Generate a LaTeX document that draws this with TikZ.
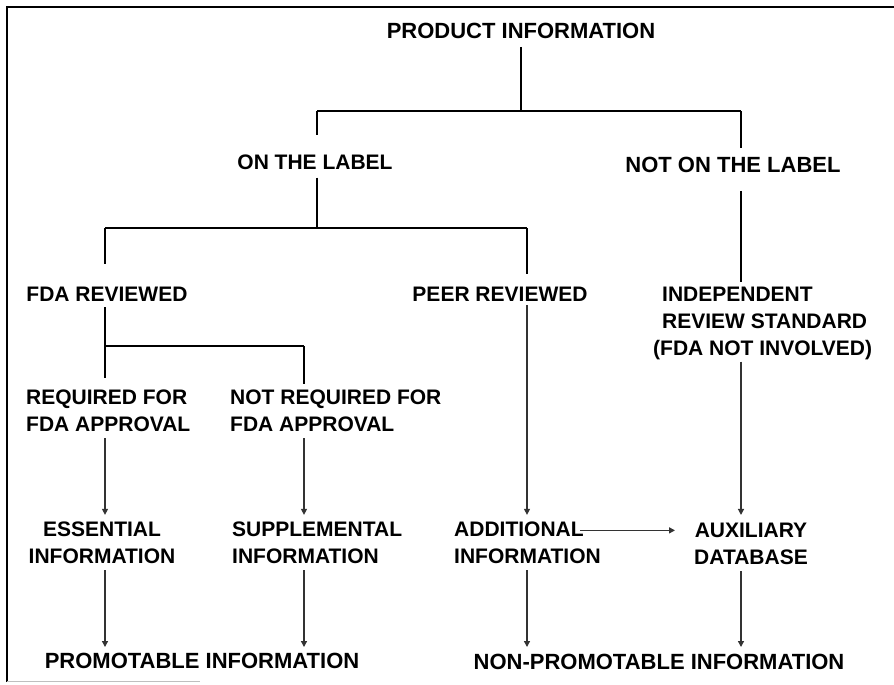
\documentclass[tikz,border=0pt]{standalone}
\usepackage{fontspec}
\setmainfont{Liberation Sans}
\usepackage{tikz}
\usetikzlibrary{arrows.meta, calc}

\begin{document}
\begin{tikzpicture}[x=1pt, y=-1pt, info/.style={inner sep=0pt, font=\bfseries\fontsize{21}{27}\selectfont}, wide/.style={info, font=\bfseries\fontsize{22}{27}\selectfont}, link/.style={line width=1.5pt}, arr/.style={->, line width=1.3pt, draw=black!80}, >={Triangle[length=6pt,width=6pt]}]
        \useasboundingbox (0,0) rectangle (894,685);
        % frame
        \draw[line width=1.4pt] (7,682) -- (7,7) -- (894,7);
        \draw[black!25, line width=1pt] (7,681) -- (200,681);
        \node[wide] (prod) at (521,31) {PRODUCT INFORMATION};
        \node[info] (onlabel) at (315,162) {ON THE LABEL};
        \node[wide] (notlabel) at (733,165) {NOT ON THE LABEL};
        \node[info] (fdarev) at (107,294) {FDA REVIEWED};
        \node[info] (peer) at (500,294) {PEER REVIEWED};
        \node[info, align=left, anchor=west] (indep) at (662,323) {INDEPENDENT\\REVIEW STANDARD\\\hspace*{-9pt}(FDA NOT INVOLVED)};
        \node[info, align=left, anchor=west] (req) at (26,411) {REQUIRED FOR\\FDA APPROVAL};
        \node[info, align=left, anchor=west] (notreq) at (230,411) {NOT REQUIRED FOR\\FDA APPROVAL};
        \node[info, align=center] (ess) at (102,543) {ESSENTIAL\\INFORMATION};
        \node[info, align=left, anchor=west] (supp) at (232,543) {SUPPLEMENTAL\\INFORMATION};
        \node[info, align=left, anchor=west] (add) at (454,543) {ADDITIONAL\\INFORMATION};
        \node[info, align=center] (aux) at (751,544) {AUXILIARY\\DATABASE};
        \node[wide] (prom) at (202,661) {PROMOTABLE INFORMATION};
        \node[wide] (nonprom) at (659,662) {NON-PROMOTABLE INFORMATION};
        % branch points
        \coordinate (j1) at (521,111);
        \coordinate (j1l) at (317,111);
        \coordinate (j1r) at (741,111);
        \coordinate (j2) at (317,228);
        \coordinate (j2l) at (105,228);
        \coordinate (j2r) at (527,228);
        \coordinate (j3) at (105,346);
        \coordinate (j3r) at (304,346);
        \coordinate (addend) at ($(add.north west)+(126,8.5)$);
        \draw[link, shorten <=8pt] (prod.south) -- (j1);
        \draw[link] (j1l) -- (j1r);
        \draw[link, shorten >=19pt] (j1l) -- (onlabel.north -| j1l);
        \draw[link, shorten >=9pt] (j1r) -- (notlabel.north -| j1r);
        \draw[link, shorten <=8pt] (onlabel.south -| j2) -- (j2);
        \draw[link] (j2l) -- (j2r);
        \draw[link, shorten >=23pt] (j2l) -- (fdarev.north -| j2l);
        \draw[link, shorten >=13pt] (j2r) -- (peer.north -| j2r);
        \draw[link, shorten <=18pt, shorten >=4pt] (notlabel.south -| j1r) -- (indep.north -| j1r);
        \draw[link, shorten <=6pt] (fdarev.south -| j3) -- (j3);
        \draw[link] (j3) -- (j3r);
        \draw[link, shorten >=12pt] (j3) -- (req.north -| j3);
        \draw[link, shorten >=6pt] (j3r) -- (notreq.north -| j3r);
        % arrows
        \draw[arr, shorten <=6pt, shorten >=7pt] (req.south -| j3) -- (ess.north -| j3);
        \draw[arr, shorten <=6pt, shorten >=7pt] (notreq.south -| j3r) -- (supp.north -| j3r);
        \draw[arr, shorten <=4pt, shorten >=7pt] (peer.south -| j2r) -- (add.north -| j2r);
        \draw[arr, shorten <=2pt, shorten >=8pt] (indep.south -| j1r) -- (aux.north -| j1r);
        \draw[arr, shorten >=19pt] (addend) -- (addend -| aux.west);
        \draw[arr, shorten <=6pt, shorten >=6pt] (ess.south -| j3) -- (prom.north -| j3);
        \draw[arr, shorten <=6pt, shorten >=6pt] (supp.south -| j3r) -- (prom.north -| j3r);
        \draw[arr, shorten <=6pt, shorten >=7pt] (add.south -| j2r) -- (nonprom.north -| j2r);
        \draw[arr, shorten <=6pt, shorten >=7pt] (aux.south -| j1r) -- (nonprom.north -| j1r);
    \end{tikzpicture}
\end{document}
